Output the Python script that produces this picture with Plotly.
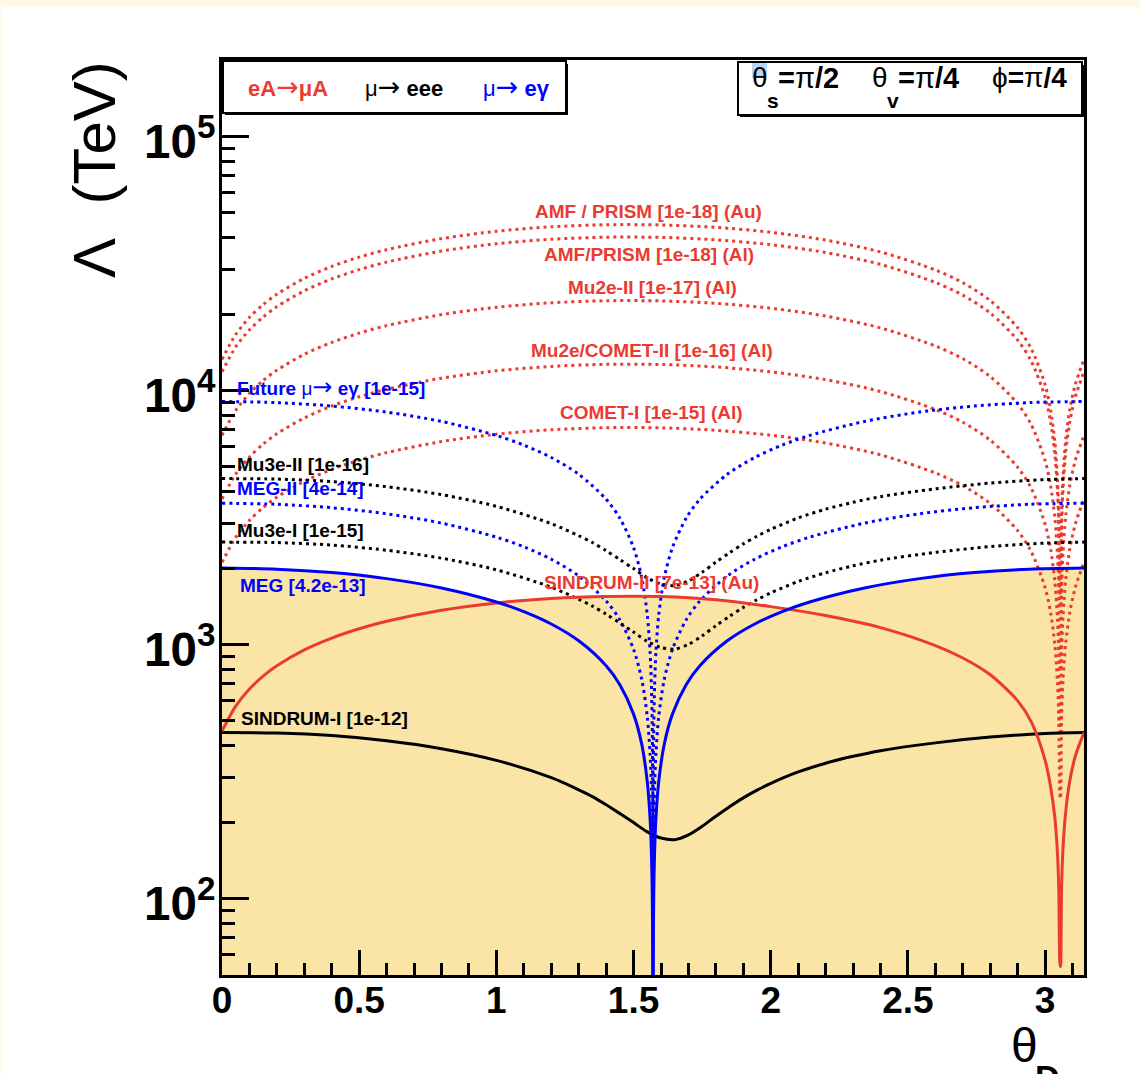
import math
import plotly.graph_objects as go

# ---------------- data ----------------
# mu -> e gamma family (blue)
THETA_BLUE = [0, 0.2, 0.4, 0.6, 0.8, 1.0, 1.1, 1.2, 1.3, 1.4, 1.45, 1.5, 1.53, 1.55, 1.56,
              1.565, 1.568, 1.57, 1.5706, 1.5708, 1.571, 1.5716, 1.5736, 1.5766, 1.5816,
              1.5916, 1.6116, 1.6416, 1.6916, 1.7416, 1.8416, 1.9416, 2.0416, 2.1416,
              2.3416, 2.5416, 2.7416, 2.9416, 3.1416]
MEG = [2000, 1980, 1919, 1817, 1669, 1470, 1347, 1204, 1034, 825, 694, 532, 404, 288, 208,
       152, 106, 57, 28, 4, 28, 57, 106, 152, 208,
       288, 404, 532, 694, 825, 1034, 1204, 1347, 1470,
       1669, 1817, 1919, 1980, 2000]
MEG_II = [3600, 3564, 3455, 3271, 3005, 2646, 2425, 2167, 1862, 1484, 1250, 957, 727, 519, 374,
          274, 190, 102, 51, 7, 51, 102, 190, 274, 374,
          519, 727, 957, 1250, 1484, 1862, 2167, 2425, 2646,
          3005, 3271, 3455, 3564, 3600]
FUTURE_MEG = [9050, 8960, 8685, 8222, 7554, 6653, 6095, 5448, 4681, 3731, 3141, 2406, 1827, 1305, 940,
              690, 479, 256, 128, 18, 128, 256, 479, 690, 940,
              1305, 1827, 2406, 3141, 3731, 4681, 5448, 6095, 6653,
              7554, 8222, 8685, 8960, 9050]

# mu -> eee family (black)
THETA_BLACK = [0, 0.2, 0.4, 0.6, 0.8, 1.0, 1.2, 1.3, 1.35, 1.4, 1.45, 1.5, 1.55, 1.6, 1.65,
               1.7, 1.75, 1.8, 1.85, 1.9, 1.95, 2.0, 2.1, 2.2, 2.3, 2.4, 2.6, 2.8, 3.0, 3.1416]
SINDRUM_I = [450, 448, 438, 418, 389, 350, 299, 268, 252, 234, 216, 199, 183, 173, 170.5,
             178, 192.5, 211, 230, 249, 267, 284, 315, 341, 363, 382, 410, 432, 446, 450]
MU3E_I = [2530, 2519, 2463, 2350, 2187, 1968, 1681, 1507, 1417, 1316, 1215, 1119, 1029, 973, 959,
          1001, 1082, 1186, 1293, 1400, 1501, 1597, 1771, 1917, 2041, 2148, 2305, 2429, 2508, 2530]
MU3E_II = [4500, 4480, 4380, 4180, 3890, 3500, 2990, 2680, 2520, 2340, 2160, 1990, 1830, 1730, 1705,
           1780, 1925, 2110, 2300, 2490, 2670, 2840, 3150, 3410, 3630, 3820, 4100, 4320, 4460, 4500]

# eA -> muA family (red)
THETA_RED = [0, 0.05, 0.1, 0.15, 0.2, 0.3, 0.4, 0.5, 0.6, 0.8, 1.0, 1.2, 1.4, 1.6, 1.8, 2.0,
             2.2, 2.4, 2.6, 2.7, 2.8, 2.9, 2.95, 3.0, 3.02, 3.035, 3.045, 3.05, 3.0535, 3.056,
             3.06, 3.065, 3.075, 3.09, 3.11, 3.1416]
SINDRUM_II = [456, 572, 668, 751, 824, 952, 1060, 1153, 1234, 1364, 1458, 1519, 1547, 1545, 1500, 1410,
              1300, 1165, 990, 885, 760, 600, 495, 350, 275, 210, 150, 105, 56, 54,
              112, 157, 220, 291, 364, 450]
COMET_I = [2106, 2640, 3081, 3463, 3803, 4392, 4891, 5320, 5694, 6294, 6727, 7005, 7137, 7126, 6971, 6668,
           6210, 5579, 4735, 4221, 3590, 2806, 2312, 1674, 1333, 1006, 708, 495, 258, 247,
           516, 722, 1016, 1341, 1680, 2106]
MU2E_COMET_II = [3740, 4690, 5472, 6152, 6755, 7800, 8687, 9450, 10114, 11180, 11948, 12442, 12677, 12657, 12381, 11844,
                 11031, 9910, 8411, 7497, 6377, 4983, 4107, 2973, 2369, 1787, 1257, 880, 458, 439,
                 916, 1283, 1805, 2383, 2983, 3741]
MU2E_II = [6656, 8346, 9738, 10947, 12021, 13881, 15458, 16817, 17999, 19895, 21262, 22141, 22559, 22523, 22033, 21077,
           19630, 17635, 14968, 13341, 11347, 8868, 7309, 5291, 4215, 3180, 2237, 1566, 816, 782,
           1629, 2283, 3211, 4240, 5309, 6658]
AMF_AL = [11839, 14846, 17322, 19473, 21382, 24691, 27497, 29913, 32015, 35388, 37820, 39384, 40128, 40063, 39191, 37491,
          34918, 31368, 26624, 23730, 20184, 15774, 13001, 9411, 7497, 5656, 3980, 2786, 1451, 1391,
          2898, 4060, 5712, 7542, 9443, 11843]
AMF_AU = [13253, 16619, 19391, 21798, 23936, 27639, 30780, 33485, 35838, 39614, 42336, 44087, 44919, 44847, 43871, 41967,
          39087, 35114, 29804, 26564, 22595, 17658, 14553, 10535, 8393, 6332, 4455, 3119, 1625, 1557,
          3245, 4545, 6395, 8442, 10571, 13257]

ARROW = '<span style="font-family:DejaVu Sans;font-size:24px">→</span>'

# curve labels: (text, theta, Lambda, colour key, x-anchor)
CURVE_LABELS = [
    ("<b>AMF / PRISM [1e-18] (Au)</b>", 1.556, 50880, "red", "center"),
    ("<b>AMF/PRISM [1e-18] (Al)</b>", 1.556, 34160, "red", "center"),
    ("<b>Mu2e-II [1e-17] (Al)</b>", 1.569, 25550, "red", "center"),
    ("<b>Mu2e/COMET-II [1e-16] (Al)</b>", 1.567, 14430, "red", "center"),
    ("<b>COMET-I [1e-15] (Al)</b>", 1.567, 8226, "red", "center"),
    ("<b>SINDRUM-II [7e-13] (Au)</b>", 1.565, 1762, "red", "center"),
    ("<b>Future</b> μ" + ARROW + " <b>eγ [1e-15]</b>", 0.051, 10345, "blue", "left"),
    ("<b>Mu3e-II [1e-16]</b>", 0.051, 5134, "black", "left"),
    ("<b>MEG-II [4e-14]</b>", 0.051, 4119, "blue", "left"),
    ("<b>Mu3e-I [1e-15]</b>", 0.051, 2822, "black", "left"),
    ("<b>MEG [4.2e-13]</b>", 0.062, 1714, "blue", "left"),
    ("<b>SINDRUM-I [1e-12]</b>", 0.065, 512, "black", "left"),
]

X_RANGE = [0, math.pi]
Y_RANGE = [50, 2e5]

# ---------------- style ----------------
COL = {"red": "#EB3B2F", "blue": "#0000FF", "black": "#000000"}
FILL = "#FAE4A6"
FONT = "Liberation Sans, Arial, Helvetica, sans-serif"
DOT = "3px,4px"

W, H = 1140, 1074
L, R, T, B = 222, 56, 60, 99
PW, PH = W - L - R, H - T - B


def px(xp):
    return (xp - L) / PW


def py(yp):
    return 1 - (yp - T) / PH


fig = go.Figure()

# excluded region (below current limits)
for th, val in [(THETA_BLUE, MEG), (THETA_RED, SINDRUM_II)]:
    fig.add_trace(go.Scatter(x=th, y=val, mode="lines", fill="tozeroy", fillcolor=FILL,
                             line=dict(width=0, shape="spline", color=FILL),
                             hoverinfo="skip", showlegend=False))

curves = [
    (THETA_RED, AMF_AU, "red", DOT),
    (THETA_RED, AMF_AL, "red", DOT),
    (THETA_RED, MU2E_II, "red", DOT),
    (THETA_RED, MU2E_COMET_II, "red", DOT),
    (THETA_RED, COMET_I, "red", DOT),
    (THETA_BLUE, FUTURE_MEG, "blue", DOT),
    (THETA_BLUE, MEG_II, "blue", DOT),
    (THETA_BLACK, MU3E_II, "black", DOT),
    (THETA_BLACK, MU3E_I, "black", DOT),
    (THETA_BLACK, SINDRUM_I, "black", "solid"),
    (THETA_RED, SINDRUM_II, "red", "solid"),
    (THETA_BLUE, MEG, "blue", "solid"),
]
for th, val, c, dash in curves:
    fig.add_trace(go.Scatter(x=th, y=val, mode="lines",
                             line=dict(color=COL[c], width=3, dash=dash, shape="spline", smoothing=0.8),
                             hoverinfo="skip", showlegend=False))

ann = []
for text, th, lam, c, anchor in CURVE_LABELS:
    ann.append(dict(x=th, y=math.log10(lam), xref="x", yref="y", text=text, showarrow=False,
                    xanchor=anchor, yanchor="middle", borderpad=0,
                    font=dict(family=FONT, size=19, color=COL[c])))

# legend box texts
ARROW_L = '<span style="font-family:DejaVu Sans;font-size:27px">→</span>'
for text, xc, c in [("<b>eA</b>" + ARROW_L + "<b>μA</b>", 287.5, "red"),
                    ("μ" + ARROW_L + " <b>eee</b>", 404, "black"),
                    ("μ" + ARROW_L + " <b>eγ</b>", 516.5, "blue")]:
    ann.append(dict(x=px(xc), y=py(86.5), xref="paper", yref="paper", text=text, showarrow=False,
                    xanchor="center", yanchor="middle", font=dict(family=FONT, size=22, color=COL[c])))

# parameter box texts
for text, xl, yc, size in [("θ", 751, 78, 28), ("<b>s</b>", 766, 101, 21), ("<b>=</b>π<b>/2</b>", 777, 78, 29),
                           ("θ", 871, 78, 28), ("<b>v</b>", 886, 101, 21), ("<b>=</b>π<b>/4</b>", 897, 78, 29),
                           ("ϕ<b>=</b>π<b>/4</b>", 991, 78, 28)]:
    ann.append(dict(x=px(xl), y=py(yc), xref="paper", yref="paper", text=text, showarrow=False,
                    xanchor="left", yanchor="middle", borderpad=0,
                    font=dict(family=FONT, size=size, color="black")))

# axis titles
ann.append(dict(x=px(94), y=py(170), xref="paper", yref="paper", text="Λ\u00a0\u00a0(TeV)",
                textangle=-90, showarrow=False, xanchor="center", yanchor="middle",
                font=dict(family=FONT, size=60, color="black")))
ann.append(dict(x=px(1024), y=py(1045), xref="paper", yref="paper", text="θ", showarrow=False,
                xanchor="center", yanchor="middle", font=dict(family=FONT, size=48, color="black")))
ann.append(dict(x=px(1047), y=py(1077), xref="paper", yref="paper", text="<b>D</b>", showarrow=False,
                xanchor="center", yanchor="middle", font=dict(family=FONT, size=34, color="black")))

shapes = [
    # cream screenshot border
    dict(type="rect", xref="paper", yref="paper", x0=px(0), x1=px(W), y0=py(7), y1=py(0),
         fillcolor="#FEF8E6", line=dict(width=0), layer="below"),
    dict(type="rect", xref="paper", yref="paper", x0=px(0), x1=px(2), y0=py(H), y1=py(0),
         fillcolor="#FEF8E6", line=dict(width=0), layer="below"),
    # legend box (shadow + box)
    dict(type="rect", xref="paper", yref="paper", x0=px(225), x1=px(568), y0=py(115), y1=py(64),
         fillcolor="black", line=dict(width=0)),
    dict(type="rect", xref="paper", yref="paper", x0=px(223), x1=px(566), y0=py(113), y1=py(61),
         fillcolor="white", line=dict(width=2, color="black")),
    # parameter box
    dict(type="rect", xref="paper", yref="paper", x0=px(740), x1=px(1084), y0=py(117), y1=py(65),
         fillcolor="black", line=dict(width=0)),
    dict(type="rect", xref="paper", yref="paper", x0=px(738), x1=px(1082), y0=py(115), y1=py(62),
         fillcolor="white", line=dict(width=2, color="black")),
    # selection highlight on theta
    dict(type="rect", xref="paper", yref="paper", x0=px(752), x1=px(767), y0=py(78), y1=py(63),
         fillcolor="#B7D6FB", line=dict(width=0)),
]

fig.update_layout(
    width=W, height=H,
    margin=dict(l=L, r=R, t=T, b=B, autoexpand=False),
    paper_bgcolor="white", plot_bgcolor="white",
    showlegend=False,
    annotations=ann, shapes=shapes,
    xaxis=dict(range=X_RANGE, dtick=0.5, tick0=0, ticks="inside", ticklen=25, tickwidth=2.5,
               tickcolor="black", showline=True, linewidth=3, linecolor="black", mirror=True,
               showgrid=False, zeroline=False, ticklabelstandoff=-9,
               tickfont=dict(family=FONT, size=37, color="black", weight="bold"),
               minor=dict(dtick=0.1, ticks="inside", ticklen=12, tickwidth=2.5, tickcolor="black",
                          showgrid=False)),
    yaxis=dict(type="log", range=[math.log10(Y_RANGE[0]), math.log10(Y_RANGE[1])], dtick=1,
               exponentformat="power", ticks="inside", ticklen=27, tickwidth=3, tickcolor="black",
               showline=True, linewidth=3, linecolor="black", mirror=True, showgrid=False,
               zeroline=False, ticklabelstandoff=-4, ticklabelshift=5,
               tickfont=dict(family=FONT, size=38, color="black", weight="bold"),
               minor=dict(dtick="D1", ticks="inside", ticklen=13, tickwidth=2.5, tickcolor="black",
                          showgrid=False)),
)

fig.write_html("out.html", config={"displayModeBar": False},
               post_script="document.body.style.margin='0px';")
